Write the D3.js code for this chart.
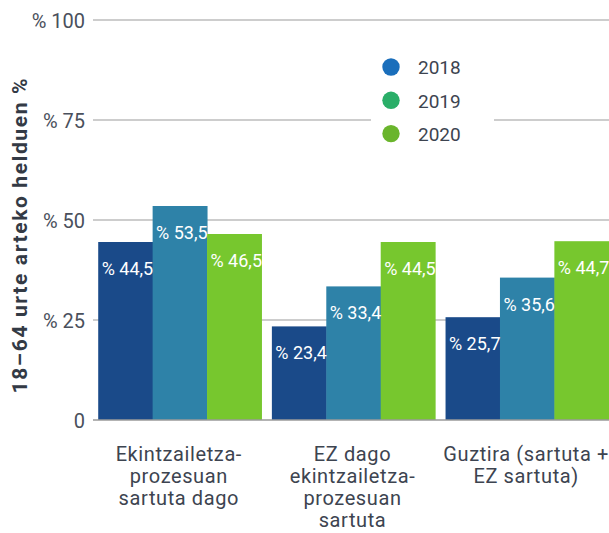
<!DOCTYPE html>
<html><head><meta charset="utf-8">
<script src="https://cdn.jsdelivr.net/npm/d3@7"></script>
<style>
html,body{margin:0;padding:0;background:#fff;}
svg{display:block;font-family:Roboto, "Noto Sans", sans-serif;}
</style></head>
<body>
<svg id="chart" width="609" height="533"></svg>
<script>
const categories = [
  ["Ekintzailetza-", "prozesuan", "sartuta dago"],
  ["EZ dago", "ekintzailetza-", "prozesuan", "sartuta"],
  ["Guztira (sartuta +", "EZ sartuta)"]
];
const categoryKeys = ["c1", "c2", "c3"];
const years = ["2018", "2019", "2020"];
const values2018 = [44.5, 23.4, 25.7];
const values2019 = [53.5, 33.4, 35.6];
const values2020 = [46.5, 44.5, 44.7];
const yTicks = [0, 25, 50, 75, 100];
const yTickLabels = ["0", "% 25", "% 50", "% 75", "% 100"];
const barColors = ["#1a4a89", "#2e82a8", "#77c72e"];
const legendColors = ["#1a6ebb", "#2aae68", "#6ab52c"];
const yTitle = "18–64 urte arteko helduen %";

const series = [values2018, values2019, values2020];
const svg = d3.select("#chart");

const y = d3.scaleLinear().domain([0, 100]).range([420, 20]);
const x0 = d3.scaleBand().domain(categoryKeys).range([93, 614]).paddingInner(0.06).paddingOuter(0.03);
const x1 = d3.scaleBand().domain(years).range([0, x0.bandwidth()]);

// gridlines
svg.append("g").selectAll("line").data(yTicks.filter(t => t > 0)).join("line")
  .attr("x1", 93).attr("x2", 609)
  .attr("y1", d => y(d)).attr("y2", d => y(d))
  .attr("stroke", "#bdbdbd").attr("stroke-width", 1.5);

// tick labels
svg.append("g").selectAll("text").data(yTicks).join("text")
  .attr("x", 85).attr("y", d => y(d))
  .attr("dy", "0.42em")
  .attr("text-anchor", "end")
  .attr("fill", "#4a505c")
  .attr("font-size", 20)
  .text((d, i) => yTickLabels[i]);

// y title
svg.append("text")
  .attr("transform", "translate(26.5,236) rotate(-90)")
  .attr("text-anchor", "middle")
  .attr("fill", "#333a45")
  .attr("font-weight", "bold")
  .attr("font-size", 21)
  .attr("textLength", 315)
  .attr("lengthAdjust", "spacing")
  .text(yTitle);

// bars
const groups = svg.append("g").selectAll("g").data(categoryKeys).join("g")
  .attr("transform", d => `translate(${x0(d)},0)`);

groups.each(function(cat, ci) {
  const g = d3.select(this);
  years.forEach((yr, si) => {
    const v = series[si][ci];
    g.append("rect")
      .attr("x", x1(yr)).attr("width", x1.bandwidth() + 0.5)
      .attr("y", y(v)).attr("height", y(0) - y(v))
      .attr("fill", barColors[si]);
  });
  years.forEach((yr, si) => {
    const v = series[si][ci];
    g.append("text")
      .attr("x", x1(yr) + x1.bandwidth() / 2 + 2)
      .attr("y", y(v) + 33)
      .attr("text-anchor", "middle")
      .attr("fill", "#fff")
      .attr("font-size", 18)
      .text("% " + v.toFixed(1).replace(".", ","));
  });
});

// baseline
svg.append("line").attr("x1", 93).attr("x2", 609)
  .attr("y1", y(0)).attr("y2", y(0))
  .attr("stroke", "#9a9a9a").attr("stroke-width", 1.5);

// x labels
categoryKeys.forEach((k, ci) => {
  const t = svg.append("text")
    .attr("text-anchor", "middle")
    .attr("fill", "#3d4450")
    .attr("font-size", 20)
    .attr("letter-spacing", 0.6);
  categories[ci].forEach((line, li) => {
    t.append("tspan").attr("x", x0(k) + x0.bandwidth() / 2 - 1)
      .attr("y", 461 + li * 22).text(line);
  });
});

// legend
const lg = svg.append("g");
lg.append("rect").attr("x", 371).attr("y", 45).attr("width", 123).attr("height", 105).attr("fill", "#fff");
years.forEach((yr, i) => {
  const cy = 67 + i * 33.3;
  lg.append("circle").attr("cx", 391).attr("cy", cy).attr("r", 8.7).attr("fill", legendColors[i]);
  lg.append("text").attr("x", 418).attr("y", cy).attr("dy", "0.38em")
    .attr("fill", "#3d4450").attr("font-size", 19).text(yr);
});
</script>
</body></html>
